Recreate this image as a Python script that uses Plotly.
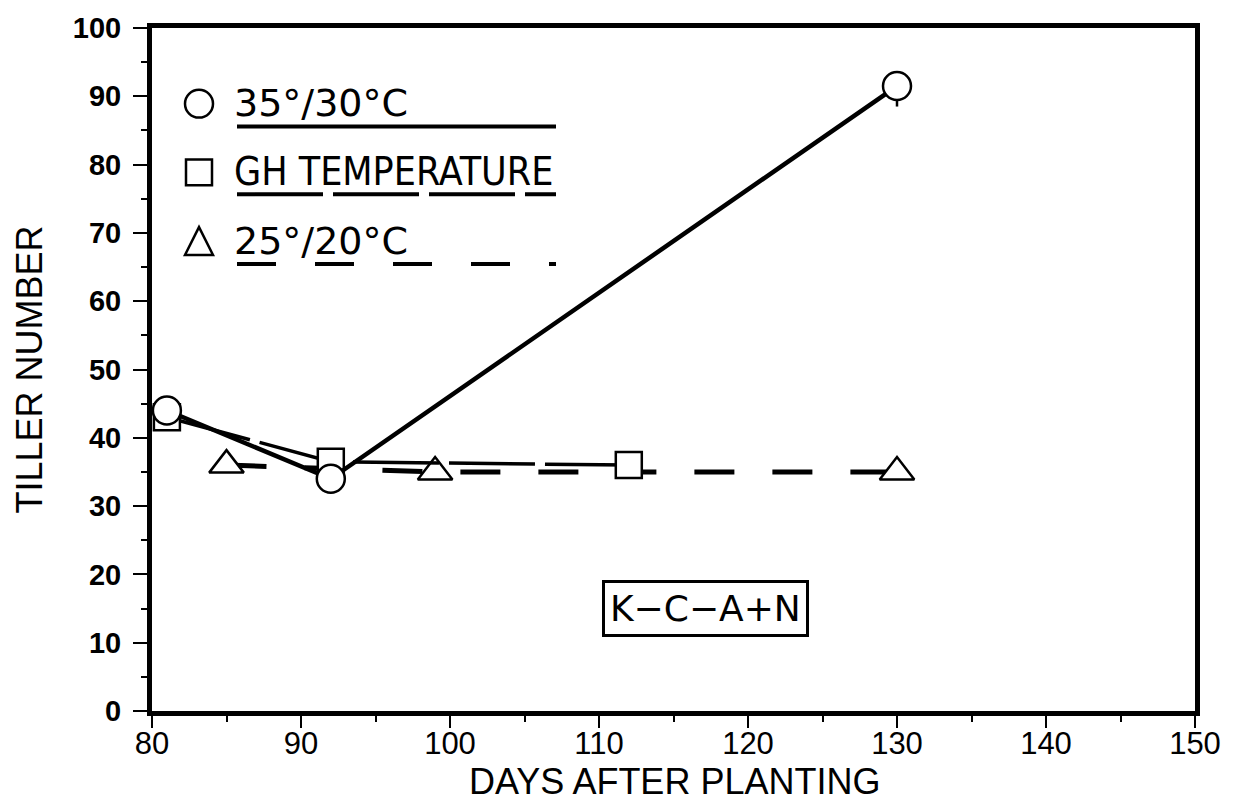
import plotly.graph_objects as go

# Tiller counts by temperature regime (days after planting)
days_hot = [81, 92, 130]
tillers_hot = [44, 34, 91.5]
err_hot_minus = [0, 0, 3]

days_gh = [81, 92, 112]
tillers_gh = [43, 36.5, 36]

days_cool = [85, 99, 130]
tillers_cool = [36, 35, 35]

labels = ["35°/30°C", "GH TEMPERATURE", "25°/20°C"]
label_fonts = ["DejaVu Sans", "DejaVu Sans Condensed", "DejaVu Sans"]
label_sizes = [38, 39, 38]
treatment = "K\u2212C\u2212A+N"

W, H = 1239, 806
L, R, T, B = 152, 1195, 25, 711


def px(x):
    return (x - L) / (R - L)


def py(y):
    return (B - y) / (B - T)


fig = go.Figure()

fig.add_trace(go.Scatter(
    x=days_cool, y=tillers_cool, mode="lines+markers",
    line=dict(color="black", width=5, dash="40px,38px"),
    marker=dict(symbol="triangle-up", size=30, color="white",
                line=dict(color="black", width=2.5)),
    showlegend=False, cliponaxis=False))

fig.add_trace(go.Scatter(
    x=days_gh, y=tillers_gh, mode="lines+markers",
    line=dict(color="black", width=3.5, dash="86px,10px"),
    marker=dict(symbol="square", size=26, color="white",
                line=dict(color="black", width=2.5)),
    showlegend=False, cliponaxis=False))

fig.add_trace(go.Scatter(
    x=days_hot, y=tillers_hot, mode="lines+markers",
    line=dict(color="black", width=4.5),
    marker=dict(symbol="circle", size=28, color="white",
                line=dict(color="black", width=2.5)),
    error_y=dict(type="data", symmetric=False, array=[0, 0, 0],
                 arrayminus=err_hot_minus, width=0, thickness=2.5, color="black"),
    showlegend=False, cliponaxis=False))

shapes = []
annotations = []

# Legend rows: symbol, label and a line sample underneath
rows = [(101, 124, "solid"), (170, 192, "86px,10px"), (240, 262, "39px,39px")]
for i, (yc, yl, dash) in enumerate(rows):
    cx = 199
    if i == 0:
        shapes.append(dict(type="circle", xref="paper", yref="paper",
                           x0=px(cx - 14), x1=px(cx + 14), y0=py(yc + 14), y1=py(yc - 14),
                           line=dict(color="black", width=2.5)))
    elif i == 1:
        shapes.append(dict(type="rect", xref="paper", yref="paper",
                           x0=px(cx - 13), x1=px(cx + 13), y0=py(yc + 13), y1=py(yc - 13),
                           line=dict(color="black", width=2.5)))
    else:
        path = "M {} {} L {} {} L {} {} Z".format(
            px(cx - 14), py(yc + 13), px(cx + 14), py(yc + 13), px(cx), py(yc - 15))
        shapes.append(dict(type="path", xref="paper", yref="paper", path=path,
                           line=dict(color="black", width=2.5)))
    annotations.append(dict(text=labels[i], xref="paper", yref="paper",
                            x=px(232), y=py(yc - 1), xanchor="left", yanchor="middle",
                            showarrow=False,
                            font=dict(family=label_fonts[i], size=label_sizes[i],
                                      color="black")))
    shapes.append(dict(type="line", xref="paper", yref="paper",
                       x0=px(237), x1=px(556), y0=py(yl), y1=py(yl),
                       line=dict(color="black", width=4, dash=dash)))

# Treatment label in a box
annotations.append(dict(text=treatment, xref="paper", yref="paper",
                        x=px(705), y=py(608), xanchor="center", yanchor="middle",
                        showarrow=False,
                        font=dict(family="DejaVu Sans", size=36, color="black"),
                        bordercolor="black", borderwidth=3, borderpad=5, bgcolor="white"))

# Axis titles
annotations.append(dict(text="TILLER NUMBER", xref="paper", yref="paper",
                        x=px(29), y=py(368), textangle=-90, showarrow=False,
                        xanchor="center", yanchor="middle",
                        font=dict(family="Liberation Sans, Arial, sans-serif",
                                  size=36, color="black")))
annotations.append(dict(text="DAYS AFTER PLANTING", xref="paper", yref="paper",
                        x=px(674), y=py(782), showarrow=False,
                        xanchor="center", yanchor="middle",
                        font=dict(family="Liberation Sans, Arial, sans-serif",
                                  size=36, color="black")))

fig.update_layout(
    width=W, height=H,
    margin=dict(l=L, r=W - R, t=T, b=H - B),
    paper_bgcolor="white", plot_bgcolor="white",
    shapes=shapes, annotations=annotations,
    showlegend=False,
)

fig.update_xaxes(
    range=[80, 150], tickmode="linear", tick0=80, dtick=10,
    ticks="outside", ticklen=12, tickwidth=2, tickcolor="black",
    minor=dict(ticks="outside", ticklen=6, tickwidth=2, dtick=5, tickcolor="black"),
    showline=True, linewidth=5, linecolor="black", mirror=True,
    showgrid=False, zeroline=False,
    ticklabelstandoff=-11,
    tickfont=dict(family="Liberation Sans, Arial, sans-serif", size=31, color="black"),
)
fig.update_yaxes(
    range=[0, 100], tickmode="linear", tick0=0, dtick=10,
    ticks="outside", ticklen=14, tickwidth=2, tickcolor="black",
    minor=dict(ticks="outside", ticklen=6, tickwidth=2, dtick=5, tickcolor="black"),
    showline=True, linewidth=5, linecolor="black", mirror=True,
    showgrid=False, zeroline=False,
    ticklabelstandoff=6,
    tickfont=dict(family="Liberation Sans, Arial, sans-serif", size=29,
                  color="black", weight="bold"),
)

fig.write_html("out.html")
